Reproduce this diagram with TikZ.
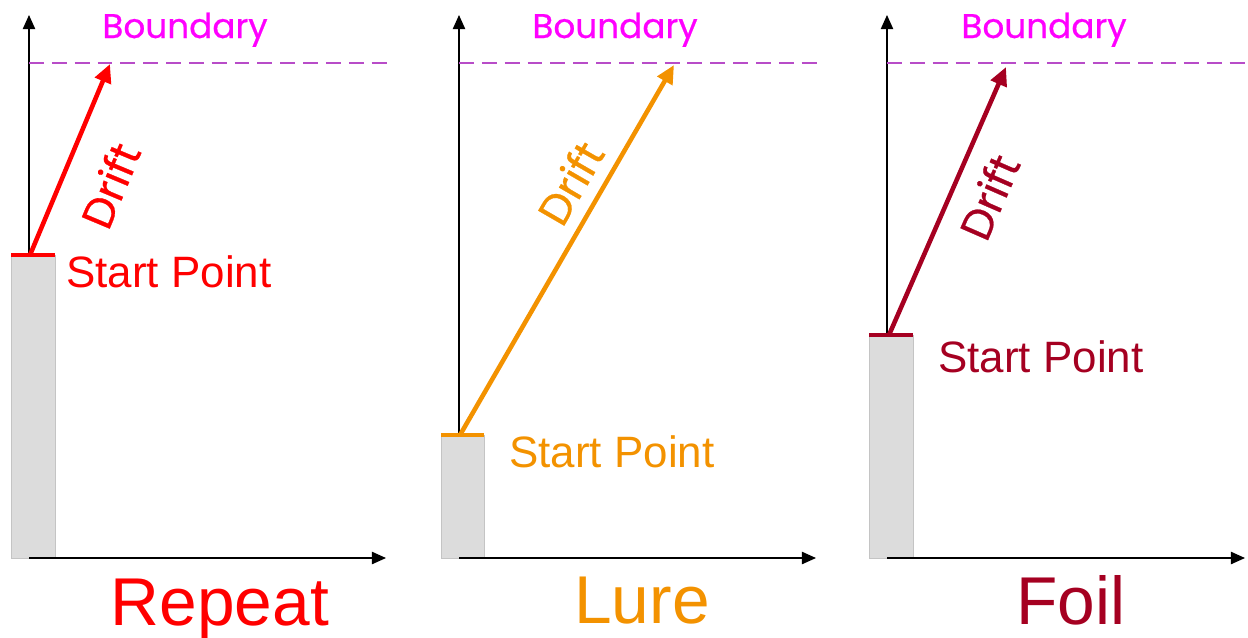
\documentclass[tikz,border=0pt]{standalone}
\usepackage{fontspec}
\setmainfont{Liberation Sans}
\newfontfamily\geofont{Poppins}[FakeBold=0.6]
\usetikzlibrary{arrows.meta, positioning}
\definecolor{RepeatRed}{HTML}{FF0000}
\definecolor{LureOrange}{HTML}{F39200}
\definecolor{FoilRed}{HTML}{A50021}
\definecolor{BoundMagenta}{HTML}{FF00FF}
\definecolor{DashMagenta}{HTML}{B84CC8}
\definecolor{BarGray}{HTML}{DCDCDC}
\definecolor{BarEdge}{HTML}{C4C4C4}

\tikzset{
    axis/.style={line width=0.75pt, -{Triangle[length=8pt,width=7pt]}},
    bound/.style={DashMagenta, line width=0.6pt, dash pattern=on 8.5pt off 4.5pt},
    boundlabel/.style={font=\geofont\fontsize{19.5}{19.5}\selectfont, text=BoundMagenta, anchor=base, inner sep=0pt},
    bar/.style={fill=BarGray, draw=BarEdge, line width=0.4pt},
    startmark/.style={line width=2.3pt},
    drift/.style={line width=2.6pt, -{Triangle[length=10.5pt,width=9.5pt]}},
    driftlabel/.style={font=\geofont\fontsize{24.5}{24.5}\selectfont, sloped, inner sep=0pt},
    startlabel/.style={font=\fontsize{25}{25}\selectfont, anchor=base west, inner sep=0pt},
    title/.style={font=\fontsize{38.5}{38.5}\selectfont, anchor=base, inner sep=0pt}
}

\begin{document}
\begin{tikzpicture}[x=0.02cm, y=-0.02cm]
\useasboundingbox (0,0) rectangle (1248,637);

% Repeat
\coordinate (o1) at (29,558);
\coordinate (ytop1) at (29,15);
\coordinate (xend1) at (386,558);
\coordinate (s1) at (30,255);
\coordinate (e1) at (110,64);
\draw[axis] (o1) -- (ytop1);
\draw[bound] (29,63) -- (387,63);
\node[boundlabel] (b1) at (185,38) {Boundary};
\draw[bar] (11,255) rectangle (55,558);
\draw[axis] (o1) -- (xend1);
\draw[startmark, RepeatRed] (11,255) -- (55,255);
\draw[drift, RepeatRed] (s1) -- (e1)
    node[driftlabel, text=RepeatRed, pos=0.46, below=16pt] (d1) {Drift};
\node[startlabel, text=RepeatRed] (sp1) at (66,287) {Start Point};
\node[title, text=RepeatRed] (t1) at (220,625) {Repeat};

% Lure
\coordinate (o2) at (459,558);
\coordinate (ytop2) at (459,15);
\coordinate (xend2) at (816,558);
\coordinate (s2) at (460,435);
\coordinate (e2) at (674,65);
\draw[axis] (o2) -- (ytop2);
\draw[bound] (459,63) -- (818,63);
\node[boundlabel] (b2) at (615,38) {Boundary};
\draw[bar] (441,435) rectangle (484,558);
\draw[axis] (o2) -- (xend2);
\draw[startmark, LureOrange] (441,435) -- (484,435);
\draw[drift, LureOrange] (s2) -- (e2)
    node[driftlabel, text=LureOrange, pos=0.64, above=7pt] (d2) {Drift};
\node[startlabel, text=LureOrange] (sp2) at (509,467) {Start Point};
\node[title, text=LureOrange] (t2) at (642,623) {Lure};

% Foil
\coordinate (o3) at (887,558);
\coordinate (ytop3) at (887,15);
\coordinate (xend3) at (1245,558);
\coordinate (s3) at (889,335);
\coordinate (e3) at (1006,67);
\draw[axis] (o3) -- (ytop3);
\draw[bound] (887,63) -- (1246,63);
\node[boundlabel] (b3) at (1044,38) {Boundary};
\draw[bar] (869,335) rectangle (913,558);
\draw[axis] (o3) -- (xend3);
\draw[startmark, FoilRed] (869,335) -- (913,335);
\draw[drift, FoilRed] (s3) -- (e3)
    node[driftlabel, text=FoilRed, pos=0.57, below=10pt] (d3) {Drift};
\node[startlabel, text=FoilRed] (sp3) at (938,372) {Start Point};
\node[title, text=FoilRed] (t3) at (1071,624) {Foil};
\end{tikzpicture}
\end{document}
